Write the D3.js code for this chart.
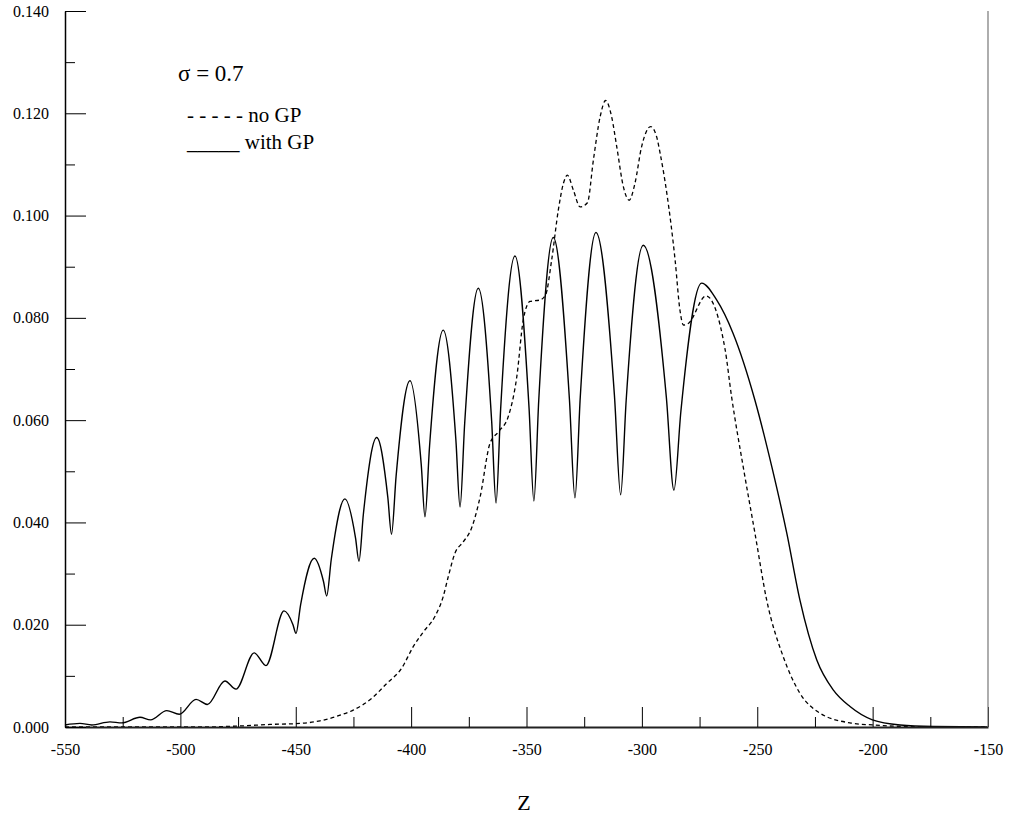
<!DOCTYPE html>
<html><head><meta charset="utf-8">
<script src="https://cdn.jsdelivr.net/npm/d3@7"></script>
<style>
body{margin:0;background:#fff}
svg text{font-family:"Liberation Serif","Times New Roman",Times,"DejaVu Serif",serif !important;}
</style>
</head><body>
<svg id="c" width="1010" height="820"></svg>
<script>
// ---- data ----
const xMajorTicks = [-550,-500,-450,-400,-350,-300,-250,-200,-150];
const xMinorTicks = [-525,-475,-425,-375,-325,-275,-225,-175];
const yMajorTicks = [0,0.02,0.04,0.06,0.08,0.10,0.12,0.14];
const yMinorTicks = [0.01,0.03,0.05,0.07,0.09,0.11,0.13];
const legendLabels = ["σ = 0.7", "- - - - - no GP", "_____ with GP"];
const xTitle = "Z";

// with GP (solid)
const withGP = [
[-550,0.0004],[-543.5,0.0007],[-538.4,0.0004],[-530.5,0.0010],[-525.4,0.0008],
[-517.5,0.0019],[-512.9,0.0014],[-505.9,0.0032],[-500.5,0.0025],[-493.2,0.0054],
[-488.3,0.0044],[-480.7,0.0090],[-475.9,0.0074],[-468.0,0.0145],[-462.9,0.0120],
[-455.1,0.0227],[-451.2,0.0200],[-449.9,0.0183],[-447.9,0.0239],[-442.0,0.0330],
[-437.95,0.0284],[-436.6,0.0256],[-434.6,0.0328],[-428.7,0.0446],[-424.1,0.0370],
[-422.6,0.0324],[-420.7,0.0416],[-414.9,0.0566],[-410.1,0.0449],[-408.5,0.0377],
[-406.5,0.0491],[-400.5,0.0677],[-395.6,0.0512],[-394.0,0.0411],[-392.0,0.0550],
[-386.1,0.0776],[-380.6,0.0561],[-378.8,0.0430],[-376.8,0.0593],[-370.9,0.0858],
[-365.1,0.0598],[-363.2,0.0438],[-361.2,0.0622],[-355.0,0.0921],[-348.9,0.0624],
[-346.8,0.0442],[-344.7,0.0638],[-338.4,0.0957],[-331.4,0.0641],[-329.0,0.0448],
[-326.7,0.0645],[-319.9,0.0967],[-311.9,0.0649],[-309.2,0.0454],[-306.8,0.0639],
[-299.4,0.0942],[-289.4,0.0645],[-286.1,0.0463],[-283.1,0.0617],[-274.1,0.0868],
[-267.6,0.0835],[-260.5,0.0770],[-251.0,0.0639],[-243.7,0.0509],[-237.2,0.0379],
[-231.5,0.0248],[-224.2,0.0131],[-217.0,0.0072],[-209.8,0.0040],[-200.1,0.0014],
[-188.1,0.0004],[-173.7,0.0001],[-150,0.0]
];

// no GP (dashed)
const noGP = [
[-550,0],[-491.5,0],[-474.2,0.0002],[-461.2,0.0005],[-448.2,0.0007],[-439.5,0.0012],
[-430.8,0.0023],[-425.1,0.0033],[-417.1,0.0056],[-410.6,0.0085],[-404.1,0.0115],
[-399.1,0.0157],[-394.7,0.0186],[-389.7,0.0216],[-386.1,0.0255],[-383.9,0.0294],
[-381.0,0.0340],[-377.4,0.0362],[-373.8,0.0389],[-370.1,0.0450],[-365.8,0.0555],
[-362.2,0.0577],[-357.9,0.0607],[-354.2,0.0685],[-351.4,0.0796],[-348.5,0.0832],
[-344.1,0.0835],[-341.7,0.0845],[-339.1,0.0913],[-336.2,0.1011],[-334.0,0.1063],
[-332.3,0.1079],[-329.7,0.1050],[-326.8,0.1017],[-323.6,0.1025],[-321.0,0.1109],
[-318.1,0.1193],[-315.7,0.1225],[-313.1,0.1193],[-310.9,0.1135],[-308.0,0.1056],
[-305.5,0.1030],[-303.0,0.1063],[-300.1,0.1135],[-296.2,0.1174],[-293.6,0.1154],
[-292.1,0.1122],[-289.2,0.1044],[-285.6,0.0913],[-283.5,0.0815],[-282.0,0.0786],
[-279.9,0.0789],[-272.2,0.0843],[-264.0,0.0740],[-261.1,0.0645],[-256.1,0.0509],
[-251.0,0.0379],[-245.9,0.0248],[-238.7,0.0137],[-231.5,0.0066],[-222.8,0.0027],
[-209.8,0.0008],[-200.1,0.0004],[-185.2,0.0001],[-150,0]
];

// ---- drawing ----
const svg = d3.select("#c");
const L = 65, R = 988, T = 11, B = 727;
const x = d3.scaleLinear().domain([-550,-150]).range([L,R]);
const y = d3.scaleLinear().domain([0,0.14]).range([B,T]);
const hyphenInt = d => String(Math.round(d)).replace("\u2212","-");

// curves
const line = d3.line().x(d=>x(d[0])).y(d=>y(d[1])).curve(d3.curveMonotoneX);
svg.append("path").attr("d", line(noGP)).attr("fill","none")
  .attr("stroke","#000").attr("stroke-width",1.3).attr("stroke-dasharray","4,3");
svg.append("path").attr("d", line(withGP)).attr("fill","none")
  .attr("stroke","#000").attr("stroke-width",1.4);

// x axis
const gx = svg.append("g").attr("transform",`translate(0,${B})`);
gx.call(d3.axisBottom(x).tickValues(xMajorTicks).tickSizeInner(-20).tickSizeOuter(0)
  .tickPadding(17).tickFormat(hyphenInt));
const gxm = svg.append("g").attr("transform",`translate(0,${B})`);
gxm.call(d3.axisBottom(x).tickValues(xMinorTicks).tickSizeInner(-10).tickSizeOuter(0).tickFormat(""));
gxm.select(".domain").remove();

// y axis
const gy = svg.append("g").attr("transform",`translate(${L},0)`);
gy.call(d3.axisLeft(y).tickValues(yMajorTicks).tickSizeInner(-21).tickSizeOuter(0)
  .tickPadding(16).tickFormat(d3.format(".3f")));
const gym = svg.append("g").attr("transform",`translate(${L},0)`);
gym.call(d3.axisLeft(y).tickValues(yMinorTicks).tickSizeInner(-10).tickSizeOuter(0).tickFormat(""));
gym.select(".domain").remove();

svg.selectAll(".tick text").attr("font-size",16).attr("fill","#000");
svg.selectAll(".tick line").attr("stroke","#000").attr("stroke-width",1);
gx.select(".domain").attr("stroke","#222").attr("stroke-width",2);
gy.select(".domain").attr("stroke","#000").attr("stroke-width",1.5);

// right edge line
svg.append("line").attr("x1",R).attr("x2",R).attr("y1",T).attr("y2",B)
  .attr("stroke","#777").attr("stroke-width",1.2);

// axis title
svg.append("text").attr("x",524).attr("y",810).attr("text-anchor","middle")
  .attr("font-size",22).text(xTitle);

// legend
const ly = [81,122,149], ls = [23,21,21];
legendLabels.forEach((t,i)=>{
  svg.append("text").attr("x",i===0?178:187).attr("y",ly[i])
    .attr("font-size",ls[i]).attr("fill","#000").text(t);
});
</script>
</body></html>
